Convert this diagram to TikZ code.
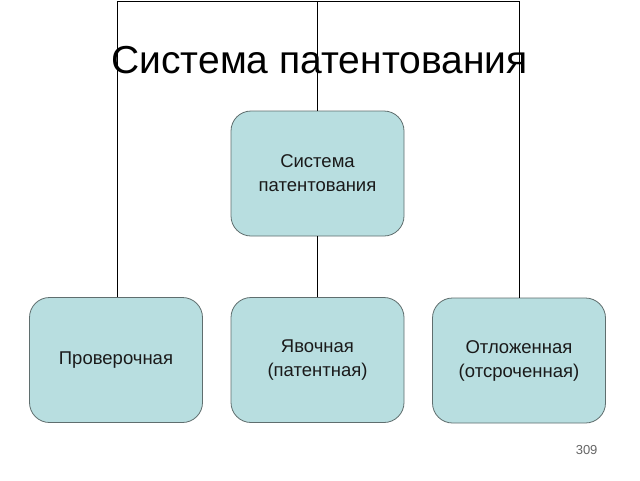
\documentclass[tikz,border=0pt]{standalone}
\usepackage{fontspec}
\setmainfont{Liberation Sans}
\begin{document}
\begin{tikzpicture}[x=1pt,y=-1pt,
  box/.style={draw=boxline, fill=boxfill, rounded corners=20pt, minimum width=173pt, minimum height=125pt, align=center, font=\fontsize{18.5}{24}\selectfont, text=boxtext, line width=0.8pt},
  conn/.style={draw=black, line width=1pt}]
\definecolor{boxfill}{HTML}{B8DEE0}
\definecolor{boxline}{HTML}{5F6E6E}
\definecolor{boxtext}{HTML}{1A1A1A}
\useasboundingbox (0,0) rectangle (640,480);
\fill[white] (0,0) rectangle (640,480);
\node[box] (top) at (317.5,173.5) {Система\\патентования};
\node[box] (left) at (116,360) {Проверочная};
\node[box] (mid) at (317.5,360) {Явочная\\(патентная)};
\node[box] (right) at (519,360.5) {Отложенная\\(отсроченная)};
\coordinate (tl) at (117,1);
\coordinate (tm) at (317.5,1);
\coordinate (tr) at (519,1);
\draw[conn] (tl) -- (tr);
\draw[conn] (tl) -- (left.north -| tl);
\draw[conn] (tm) -- (top.north);
\draw[conn] (top.south) -- (mid.north);
\draw[conn] (tr) -- (right.north);
\node[font=\fontsize{39}{44}\selectfont, anchor=base] (title) at (319.5,73) {Система патентования};
\node[font=\fontsize{13}{15}\selectfont, text=black!60, anchor=base east] (pg) at (601,454) {309};
\end{tikzpicture}
\end{document}
